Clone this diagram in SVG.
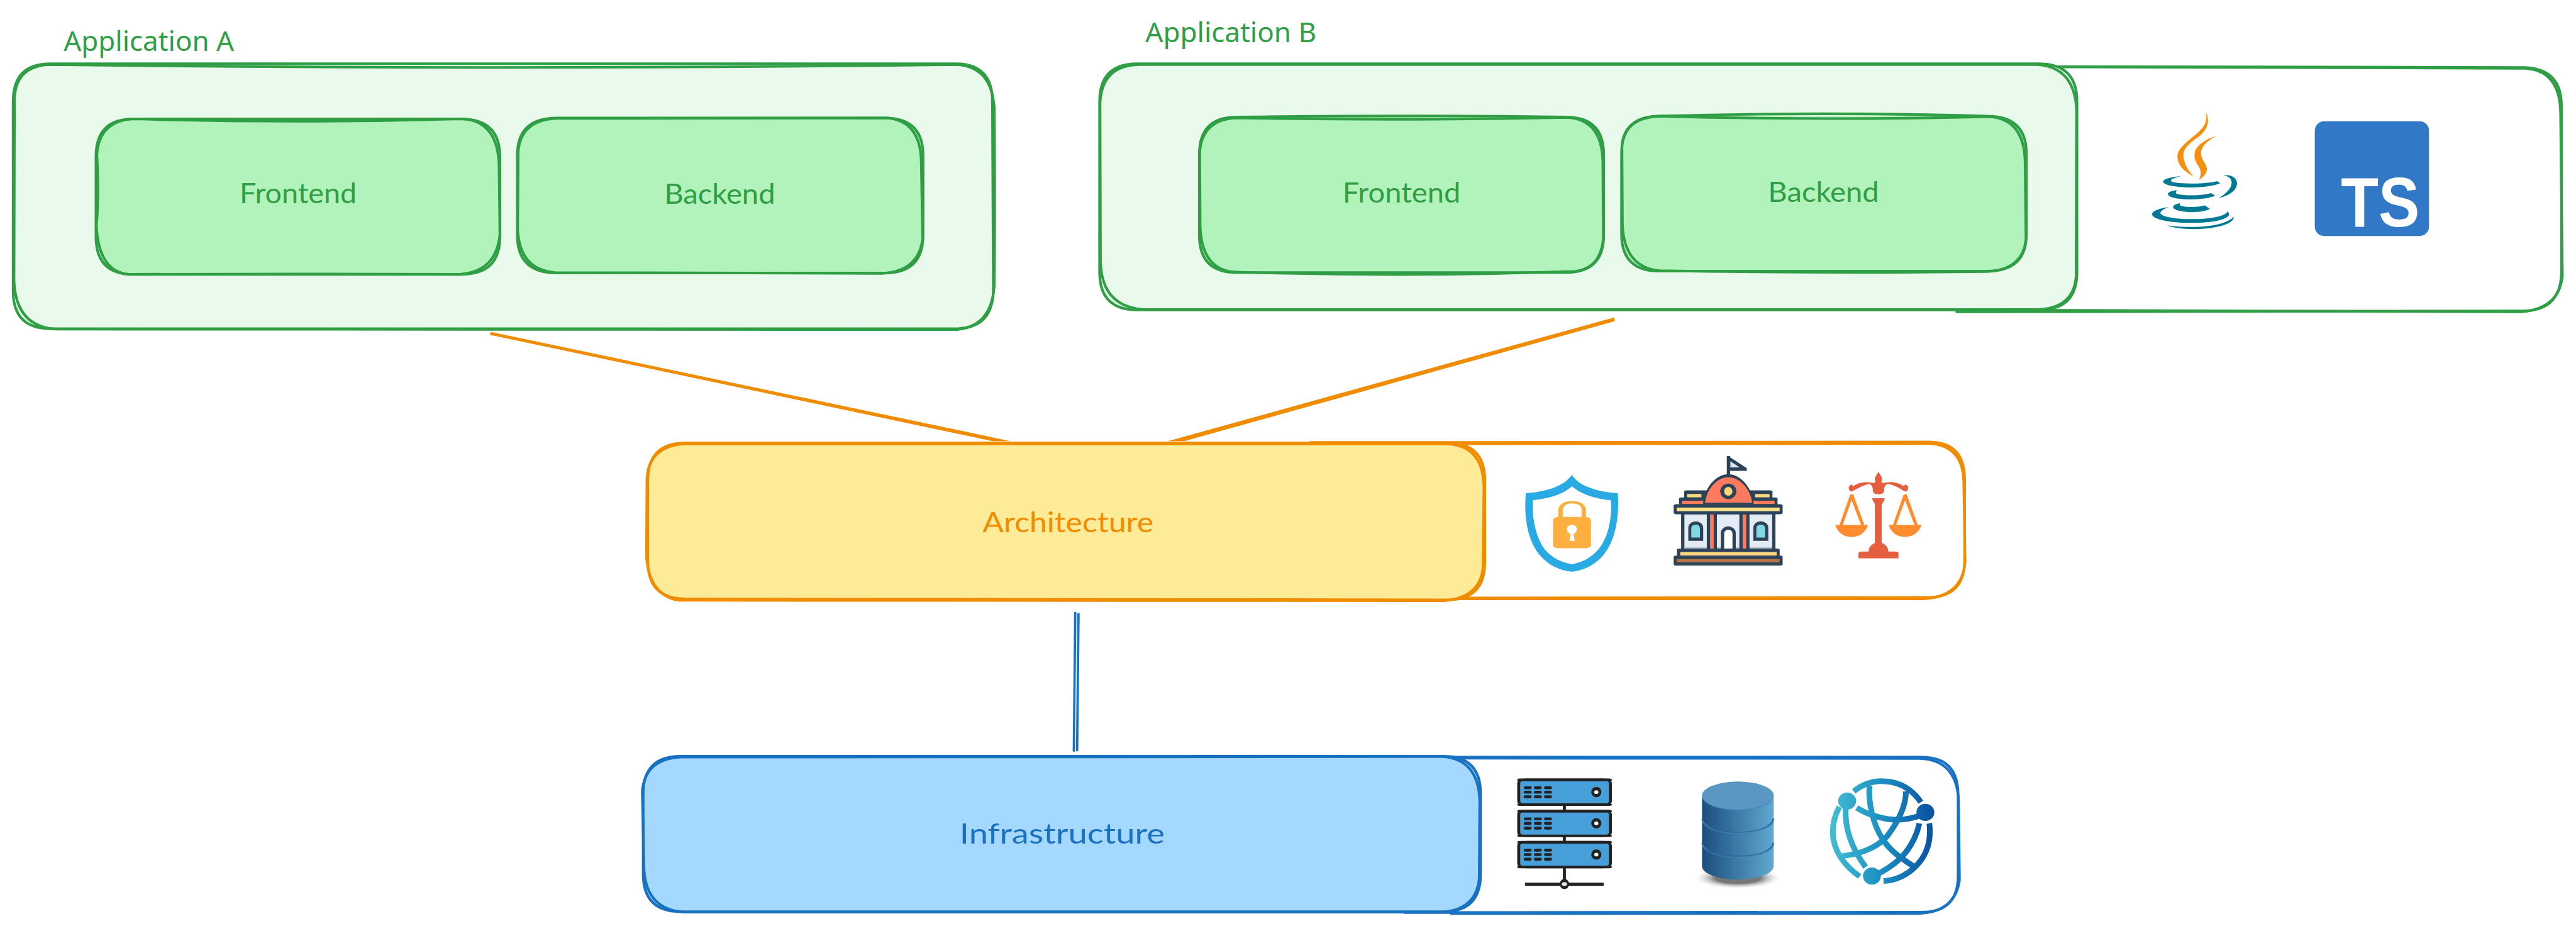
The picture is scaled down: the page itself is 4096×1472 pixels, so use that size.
<svg xmlns="http://www.w3.org/2000/svg" width="4096" height="1472" viewBox="0 0 4096 1472">
<style>
.s{fill:none;stroke-width:5.5;stroke-linejoin:round;stroke-linecap:round}
.g{stroke:#2f9e44}.o{stroke:#f08c00}.b{stroke:#1971c2}
.hand{font-family:"Lato","Noto Sans",sans-serif;font-size:60px}
.app{font-family:"Noto Sans","Open Sans",sans-serif;font-size:58px;fill:#2f9e44}
.dk{fill:#2c4257}
.gl{fill:none;stroke:url(#gg);stroke-width:9;vector-effect:non-scaling-stroke}
</style>
<defs>
<linearGradient id="gg" gradientUnits="userSpaceOnUse" x1="1190" y1="0" x2="1540" y2="0"><stop offset="0" stop-color="#45bdd2"/><stop offset="0.5" stop-color="#1b8fc2"/><stop offset="1" stop-color="#0a4fa0"/></linearGradient>
<linearGradient id="db" x1="0" y1="0" x2="1" y2="0"><stop offset="0" stop-color="#1c4d7e"/><stop offset="1" stop-color="#5faad0"/></linearGradient>
<radialGradient id="sh"><stop offset="0.5" stop-color="#777"/><stop offset="1" stop-color="#fff" stop-opacity="0"/></radialGradient>
<g id="srv">
<rect x="148" y="133" width="307" height="165" rx="24" fill="#479fd9" stroke="#222" stroke-width="10"/>
<rect x="143" y="128" width="317" height="18" rx="9" fill="#222"/>
<rect x="143" y="287" width="317" height="16" rx="8" fill="#222"/>
<g fill="#222">
<rect x="165" y="178" width="26" height="18" rx="6"/><rect x="199" y="178" width="26" height="18" rx="6"/><rect x="233" y="178" width="26" height="18" rx="6"/>
<rect x="165" y="206" width="26" height="19" rx="6"/><rect x="199" y="206" width="26" height="19" rx="6"/><rect x="233" y="206" width="26" height="19" rx="6"/>
<rect x="165" y="236" width="26" height="19" rx="6"/><rect x="199" y="236" width="26" height="19" rx="6"/><rect x="233" y="236" width="26" height="19" rx="6"/>
<ellipse cx="408" cy="215" rx="17" ry="33"/></g>
<ellipse cx="408" cy="215" rx="7" ry="12" fill="#fff"/>
</g>
</defs>
<rect width="4096" height="1472" fill="#fff"/>
<g transform="scale(0.74432)">

<g id="connectors">
<path d="M1049,709 L2158,942 L2120,942 L1046,715Z" fill="#f08c00"/>
<path d="M3448,678 L2495,942 L2530,942 L3450,686Z" fill="#f08c00"/>
<path class="s b" style="stroke-width:5" d="M2297,1309 L2294,1603"/>
<path class="s b" style="stroke-width:5" d="M2304,1311 L2301,1602"/>
</g>

<g id="app-a">
<path d="M108,136 L2040,136 Q2120,136 2120,216 L2120,622 Q2120,702 2040,702 L108,702 Q28,702 28,622 L28,216 Q28,136 108,136Z" fill="#e9f9ec"/>
<path class="s g" d="M108,136 L2040,136 Q2120,136 2120,216 L2122,622 Q2120,702 2040,702 L108,702 Q28,702 28,622 L28,216 Q28,136 108,136Z"/>
<path class="s g" d="M108,138 Q1050,150 2040,138 Q2118,140 2124,230 Q2126,450 2124,610 Q2118,700 2040,704 L120,703 Q34,698 30,600 L31,210 Q34,140 108,138Z"/>
<text class="app" x="136" y="109" textLength="364" lengthAdjust="spacingAndGlyphs">Application A</text>
</g>
<g id="frontend-a">
<path d="M285,254 L985,254 Q1068,254 1068,334 L1068,506 Q1068,586 985,586 L285,586 Q205,586 205,506 L205,334 Q205,254 285,254Z" fill="#b2f2bb"/>
<path class="s g" d="M285,254 L985,254 Q1068,254 1068,334 L1068,506 Q1068,586 985,586 L285,586 Q205,586 205,506 L205,334 Q205,254 285,254Z"/>
<path class="s g" d="M285,254 Q640,264 985,254 Q1062,256 1066,350 L1068,500 Q1060,582 980,586 Q640,584 275,586 Q210,580 206,480 Q212,420 207,330 Q212,258 285,254Z"/>
<text class="hand" x="512" y="434" textLength="250" lengthAdjust="spacingAndGlyphs" fill="#2f9e44">Frontend</text>
</g>
<g id="backend-a">
<path d="M1190,252 L1890,252 Q1972,252 1972,332 L1972,502 Q1972,583 1890,583 L1190,583 Q1105,583 1105,502 L1105,332 Q1105,252 1190,252Z" fill="#b2f2bb"/>
<path class="s g" d="M1190,252 L1890,252 Q1972,252 1972,332 L1972,502 Q1972,583 1890,583 L1190,583 Q1105,583 1105,502 L1105,332 Q1105,252 1190,252Z"/>
<path class="s g" d="M1190,253 L1895,252 Q1966,258 1968,345 L1971,510 Q1962,580 1885,584 L1185,582 Q1110,576 1106,490 L1107,325 Q1112,256 1190,253Z"/>
<text class="hand" x="1419" y="435" textLength="237" lengthAdjust="spacingAndGlyphs" fill="#2f9e44">Backend</text>
</g>

<g id="app-b">
<path class="s g" d="M4250,142 L5392,144 Q5472,146 5472,226 L5472,582 Q5470,664 5390,664 L4180,666" fill="#fff"/>
<path class="s g" d="M4400,143 L5395,146 Q5468,150 5470,240 L5474,590 Q5466,660 5385,666 L4190,662"/>
<path d="M2430,136 L4355,136 Q4437,136 4437,216 L4437,582 Q4437,662 4355,662 L2430,662 Q2349,662 2349,582 L2349,216 Q2349,136 2430,136Z" fill="#e9f9ec"/>
<path class="s g" d="M2430,136 L4355,136 Q4437,136 4437,216 L4437,582 Q4437,662 4355,662 L2430,662 Q2349,662 2349,582 L2349,216 Q2349,136 2430,136Z"/>
<path class="s g" d="M2432,138 L4350,138 Q4432,142 4436,235 L4435,590 Q4430,660 4350,661 L2445,661 Q2354,656 2351,560 L2350,220 Q2354,140 2432,138Z"/>
<text class="app" x="2447" y="90" textLength="365" lengthAdjust="spacingAndGlyphs">Application B</text>
<g id="java" transform="translate(4400,180) scale(0.57407,0.33333)">
<g fill="#f58f0f">
<path d="M543,177 C560,230 555,290 510,345 C470,395 455,425 462,480 C468,525 480,555 497,590 C455,550 438,510 438,460 C440,400 490,350 520,300 C545,260 550,220 543,177Z"/>
<path d="M584,330 C545,365 525,405 526,445 C528,490 548,510 548,545 C547,570 535,595 518,612 C526,585 527,560 520,535 C510,505 500,490 502,445 C505,395 540,355 584,330Z"/></g>
<g fill="#007994">
<path d="M455,588 C415,595 385,607 385,624 C385,648 440,662 495,661 C540,660 575,650 598,634 L585,621 C560,632 525,637 490,636 C445,636 414,628 414,618 C414,608 430,597 455,588Z"/>
<path d="M608,584 C640,575 660,600 660,635 C660,680 630,715 592,729 C620,700 640,665 640,630 C640,605 628,588 608,584Z"/>
<path d="M436,678 C415,682 403,692 403,703 C403,725 445,738 490,738 C525,738 558,730 579,714 L563,697 C545,706 520,711 492,711 C460,711 432,705 432,695 C432,690 435,684 436,678Z"/>
<path d="M448,762 C432,766 422,776 422,787 C422,805 455,819 492,819 C522,819 545,811 559,798 L540,776 C525,783 510,786 490,786 C465,786 447,780 447,772Z"/>
<path d="M408,786 C370,795 344,812 344,832 C344,865 410,888 490,888 C570,888 630,865 630,832 C630,825 628,818 625,813 C620,845 560,864 490,864 C425,864 375,845 375,825 C375,810 390,796 408,786Z"/>
<path d="M399,904 C430,912 470,915 505,914 C570,912 625,890 648,850 C650,890 590,928 500,928 C455,928 420,918 399,904Z"/></g>
</g>
<g id="typescript">
<rect x="4945" y="259" width="244" height="245" rx="20" fill="#3178c6"/>
<text x="5001" y="483" font-family="Liberation Sans,sans-serif" font-weight="700" font-size="150" fill="#fff" textLength="168" lengthAdjust="spacingAndGlyphs">TS</text>
</g>
</g>
<g id="frontend-b">
<path d="M2642,250 L3345,250 Q3426,250 3426,330 L3426,502 Q3426,582 3345,582 L2642,582 Q2562,582 2562,502 L2562,330 Q2562,250 2642,250Z" fill="#b2f2bb"/>
<path class="s g" d="M2642,250 Q3000,245 3345,250 Q3426,250 3426,330 L3426,502 Q3426,582 3345,582 L2642,582 Q2562,582 2562,502 L2562,330 Q2562,250 2642,250Z"/>
<path class="s g" d="M2640,252 Q3000,258 3350,251 Q3422,256 3424,345 L3425,510 Q3418,584 3345,580 Q3000,592 2640,581 Q2568,578 2564,485 L2563,325 Q2568,256 2640,252Z"/>
<text class="hand" x="2868" y="432" textLength="252" lengthAdjust="spacingAndGlyphs" fill="#2f9e44">Frontend</text>
</g>
<g id="backend-b">
<path d="M3545,248 L4245,248 Q4329,248 4329,328 L4329,500 Q4329,579 4245,579 L3545,579 Q3464,579 3464,500 L3464,328 Q3464,248 3545,248Z" fill="#b2f2bb"/>
<path class="s g" d="M3545,248 Q3900,238 4245,248 Q4329,248 4329,328 L4329,500 Q4329,579 4245,579 L3545,579 Q3464,579 3464,500 L3464,328 Q3464,248 3545,248Z"/>
<path class="s g" d="M3545,248 Q3900,258 4250,249 Q4324,254 4326,345 L4328,510 Q4322,576 4245,580 Q3900,584 3546,578 Q3470,572 3466,480 L3465,310 Q3470,252 3545,248Z"/>
<text class="hand" x="3777" y="431" textLength="237" lengthAdjust="spacingAndGlyphs" fill="#2f9e44">Backend</text>
</g>

<g id="architecture">
<path class="s o" d="M2800,945 L4120,944 Q4197,944 4197,1024 L4197,1196 Q4197,1276 4117,1276 L3000,1277" fill="#fff"/>
<path class="s o" d="M2900,948 L4120,947 Q4194,950 4195,1030 L4198,1200 Q4192,1274 4110,1279 L3100,1279"/>
<path d="M1465,946 L3092,946 Q3172,946 3172,1026 L3172,1201 Q3172,1281 3092,1281 L1460,1283 Q1384,1280 1384,1196 L1384,1026 Q1384,946 1465,946Z" fill="#fdeb98"/>
<path class="s o" d="M1465,946 L3092,946 Q3172,946 3172,1026 L3172,1201 Q3172,1281 3092,1281 L1465,1279 Q1384,1279 1384,1199 L1384,1026 Q1384,946 1465,946Z"/>
<path class="s o" d="M1467,948 L3090,948 Q3168,950 3170,1040 L3168,1210 Q3164,1276 3085,1283 L1450,1282 Q1388,1272 1381,1190 L1382,1020 Q1388,950 1467,948Z"/>
<text class="hand" x="2099" y="1136" textLength="365" lengthAdjust="spacingAndGlyphs" fill="#f08c00">Architecture</text>
<g id="arch-icons" transform="translate(3150,940) scale(0.63776,0.33333)">
<g id="shield">
<path d="M326,222 C345,285 400,330 480,340 C485,480 475,640 430,740 C400,805 365,835 326,843 C285,835 250,805 220,740 C175,640 165,480 172,340 C250,330 305,285 326,222Z" fill="#2aaae2"/>
<path d="M326,296 C355,345 400,375 457,385 C460,500 450,620 415,700 C390,755 360,785 326,794 C290,785 260,755 235,700 C205,620 192,500 195,385 C250,375 300,345 326,296Z" fill="#fff"/>
<rect x="263" y="492" width="127" height="201" rx="20" fill="#fdb03f"/>
<path d="M288,495 L288,450 C288,415 305,398 326,398 C350,398 366,415 366,450 L366,495" fill="none" stroke="#fdb03f" stroke-width="15"/>
<ellipse cx="326" cy="572" rx="17" ry="30" fill="#fff"/><path d="M322,598 L331,598 L336,645 L318,645Z" fill="#fff"/>
</g>
<g id="building">
<rect class="dk" x="845" y="102" width="11" height="125"/>
<path class="dk" d="M850,102 L912,180 L912,197 L850,197Z"/><path d="M857,135 L888,175 L857,175Z" fill="#dde7f0"/>
<rect class="dk" x="702" y="322" width="296" height="50" rx="8"/>
<rect x="712" y="345" width="48" height="22" fill="#ffd97f"/><rect x="940" y="345" width="48" height="22" fill="#ffd97f"/>
<rect class="dk" x="685" y="367" width="330" height="48" rx="8"/>
<rect x="695" y="388" width="310" height="22" fill="#ff7a5f"/>
<path class="dk" d="M765,410 C770,300 810,218 850,218 C890,218 930,300 935,410Z"/>
<path d="M772,400 C780,300 815,238 850,238 C885,238 922,300 930,400Z" fill="#ff7a5f"/>
<ellipse class="dk" cx="850" cy="328" rx="27" ry="50"/><ellipse cx="850" cy="328" rx="14" ry="28" fill="#fdd576"/>
<rect class="dk" x="667" y="410" width="365" height="65" rx="10"/>
<rect x="677" y="432" width="345" height="23" fill="#ffe08a"/>
<rect class="dk" x="692" y="470" width="316" height="235"/>
<rect x="703" y="476" width="294" height="220" fill="#e3ecf4"/>
<rect x="703" y="685" width="294" height="11" fill="#b9c2cc"/>
<rect class="dk" x="778" y="472" width="34" height="230"/><rect x="789" y="476" width="12" height="220" fill="#ff7a5f"/>
<rect class="dk" x="887" y="472" width="34" height="230"/><rect x="898" y="476" width="12" height="220" fill="#ff7a5f"/>
<path class="dk" d="M716,645 L716,560 C716,535 730,520 741,520 C752,520 766,535 766,560 L766,645Z"/>
<path d="M726,624 L726,565 C726,550 733,541 741,541 C749,541 755,550 755,565 L755,624Z" fill="#7fd8e2"/>
<path class="dk" d="M934,645 L934,560 C934,535 948,520 959,520 C970,520 984,535 984,560 L984,645Z"/>
<path d="M944,624 L944,565 C944,550 951,541 959,541 C967,541 973,550 973,565 L973,624Z" fill="#7fd8e2"/>
<path class="dk" d="M825,700 L825,595 C825,570 838,553 850,553 C862,553 875,570 875,595 L875,700Z"/>
<path d="M836,696 L836,600 C836,585 843,574 850,574 C857,574 864,585 864,600 L864,696Z" fill="#fff"/>
<rect class="dk" x="678" y="695" width="344" height="55" rx="8"/>
<rect x="689" y="717" width="323" height="23" fill="#ffd97f"/>
<rect class="dk" x="667" y="740" width="365" height="63" rx="8"/>
<rect x="677" y="762" width="345" height="21" fill="#b87444"/>
</g>
<g id="scales">
<g fill="#e45f3f">
<rect x="1341" y="375" width="23" height="310"/>
<path d="M1332,372 L1374,372 C1372,395 1366,405 1364,410 L1342,410 C1340,405 1334,395 1332,372Z"/>
<path d="M1286,757 L1286,725 Q1286,714 1300,714 L1320,714 C1320,680 1335,655 1353,655 C1371,655 1386,680 1386,714 L1408,714 Q1420,714 1420,725 L1420,757Z"/>
<path d="M1353,204 C1362,230 1370,250 1362,268 L1372,275 C1395,262 1425,275 1436,295 L1444,285 C1455,295 1456,315 1445,330 C1430,320 1420,295 1385,280 C1375,285 1372,300 1372,320 C1372,340 1365,347 1353,347 C1341,347 1334,340 1334,320 C1334,300 1331,285 1321,280 C1290,295 1276,320 1261,330 C1250,315 1251,295 1262,285 L1270,295 C1281,275 1311,262 1334,275 L1344,268 C1336,250 1344,230 1353,204Z"/>
</g>
<g fill="#ff8c2e">
<path d="M1208,543 L1318,543 C1310,590 1290,620 1263,620 C1236,620 1216,590 1208,543Z"/>
<path d="M1222,545 L1258,350 L1268,345 L1306,545 L1295,545 L1263,385 L1233,545Z"/>
<path d="M1387,543 L1497,543 C1489,590 1469,620 1442,620 C1415,620 1395,590 1387,543Z"/>
<path d="M1401,545 L1437,350 L1447,345 L1485,545 L1474,545 L1442,385 L1412,545Z"/>
</g>
</g>
</g>
</g>

<g id="infrastructure">
<path class="s b" d="M2800,1617 L4105,1617 Q4183,1617 4183,1697 L4183,1870 Q4183,1948 4105,1948 L3000,1949" fill="#fff"/>
<path class="s b" d="M3000,1619 L4100,1620 Q4180,1622 4184,1710 L4186,1880 Q4176,1950 4095,1951 L3100,1951"/>
<path d="M1455,1615 L3083,1615 Q3163,1615 3163,1695 L3163,1867 Q3163,1947 3083,1947 L1455,1947 Q1374,1947 1374,1867 L1374,1695 Q1374,1615 1455,1615Z" fill="#a5d8ff"/>
<path class="s b" d="M1455,1615 L3083,1615 Q3163,1615 3163,1695 L3163,1867 Q3163,1947 3083,1947 L1455,1947 Q1374,1947 1374,1867 L1374,1695 Q1374,1615 1455,1615Z"/>
<path class="s b" d="M1457,1617 L3080,1616 Q3158,1620 3161,1710 L3160,1875 Q3154,1944 3078,1948 L1460,1948 Q1382,1942 1376,1860 L1372,1690 Q1378,1620 1457,1617Z"/>
<text class="hand" x="2050" y="1802" textLength="438" lengthAdjust="spacingAndGlyphs" fill="#1971c2">Infrastructure</text>
<g id="infra-icons" transform="translate(3150,1620) scale(0.63776,0.33333)">
<g id="server">
<rect x="296" y="300" width="10" height="480" fill="#222"/>
<use href="#srv"/><use href="#srv" y="200"/><use href="#srv" y="400"/>
<rect x="169" y="795" width="264" height="20" rx="3" fill="#222"/>
<ellipse cx="301" cy="804" rx="16" ry="32" fill="#222"/><ellipse cx="301" cy="804" rx="9" ry="12" fill="#e8e8e8"/>
</g>
<g id="database">
<ellipse cx="882" cy="765" rx="150" ry="72" fill="url(#sh)"/>
<path d="M762,245 L762,690 C762,740 820,775 882,775 C945,775 1002,740 1002,690 L1002,245Z" fill="url(#db)"/>
<path d="M762,385 C770,440 820,472 882,472 C945,472 995,440 1002,385" fill="none" stroke="#2b6494" stroke-width="5"/>
<path d="M764,402 C775,450 820,480 882,480 C945,480 990,450 1001,402" fill="none" stroke="#3f86bb" stroke-width="4"/>
<path d="M762,540 C770,595 820,625 882,625 C945,625 995,595 1002,540" fill="none" stroke="#2b6494" stroke-width="5"/>
<path d="M764,557 C775,605 820,633 882,633 C945,633 990,605 1001,557" fill="none" stroke="#3f86bb" stroke-width="4"/>
<ellipse cx="882" cy="240" rx="120" ry="92" fill="#3f86bb"/>
<ellipse cx="882" cy="237" rx="120" ry="89" fill="#5b97c3"/>
</g>
<g id="globe">
<path class="gl" d="M1270,210 C1300,165 1330,145 1362,145 C1420,145 1465,195 1495,280"/>
<path class="gl" d="M1222,310 C1205,370 1200,420 1200,470 C1200,590 1240,690 1290,755"/>
<path class="gl" d="M1370,785 C1450,775 1525,650 1525,470 C1525,450 1525,430 1523,415"/>
<path class="gl" d="M1323,175 C1318,280 1335,420 1365,510 C1390,590 1430,640 1470,690"/>
<path class="gl" d="M1445,210 C1445,300 1420,400 1385,490 C1360,550 1310,610 1230,625"/>
<path class="gl" d="M1243,320 C1240,450 1265,580 1310,695"/>
<path class="gl" d="M1280,315 C1320,365 1380,395 1420,392 C1450,390 1480,375 1500,360"/>
<path class="gl" d="M1490,415 C1480,510 1450,600 1420,650 C1400,685 1375,715 1350,740"/>
<ellipse cx="1248" cy="272" rx="30" ry="55" fill="url(#gg)"/>
<ellipse cx="1510" cy="345" rx="30" ry="55" fill="url(#gg)"/>
<ellipse cx="1331" cy="753" rx="30" ry="55" fill="url(#gg)"/>
</g>
</g>
</g>
</g>
</svg>
